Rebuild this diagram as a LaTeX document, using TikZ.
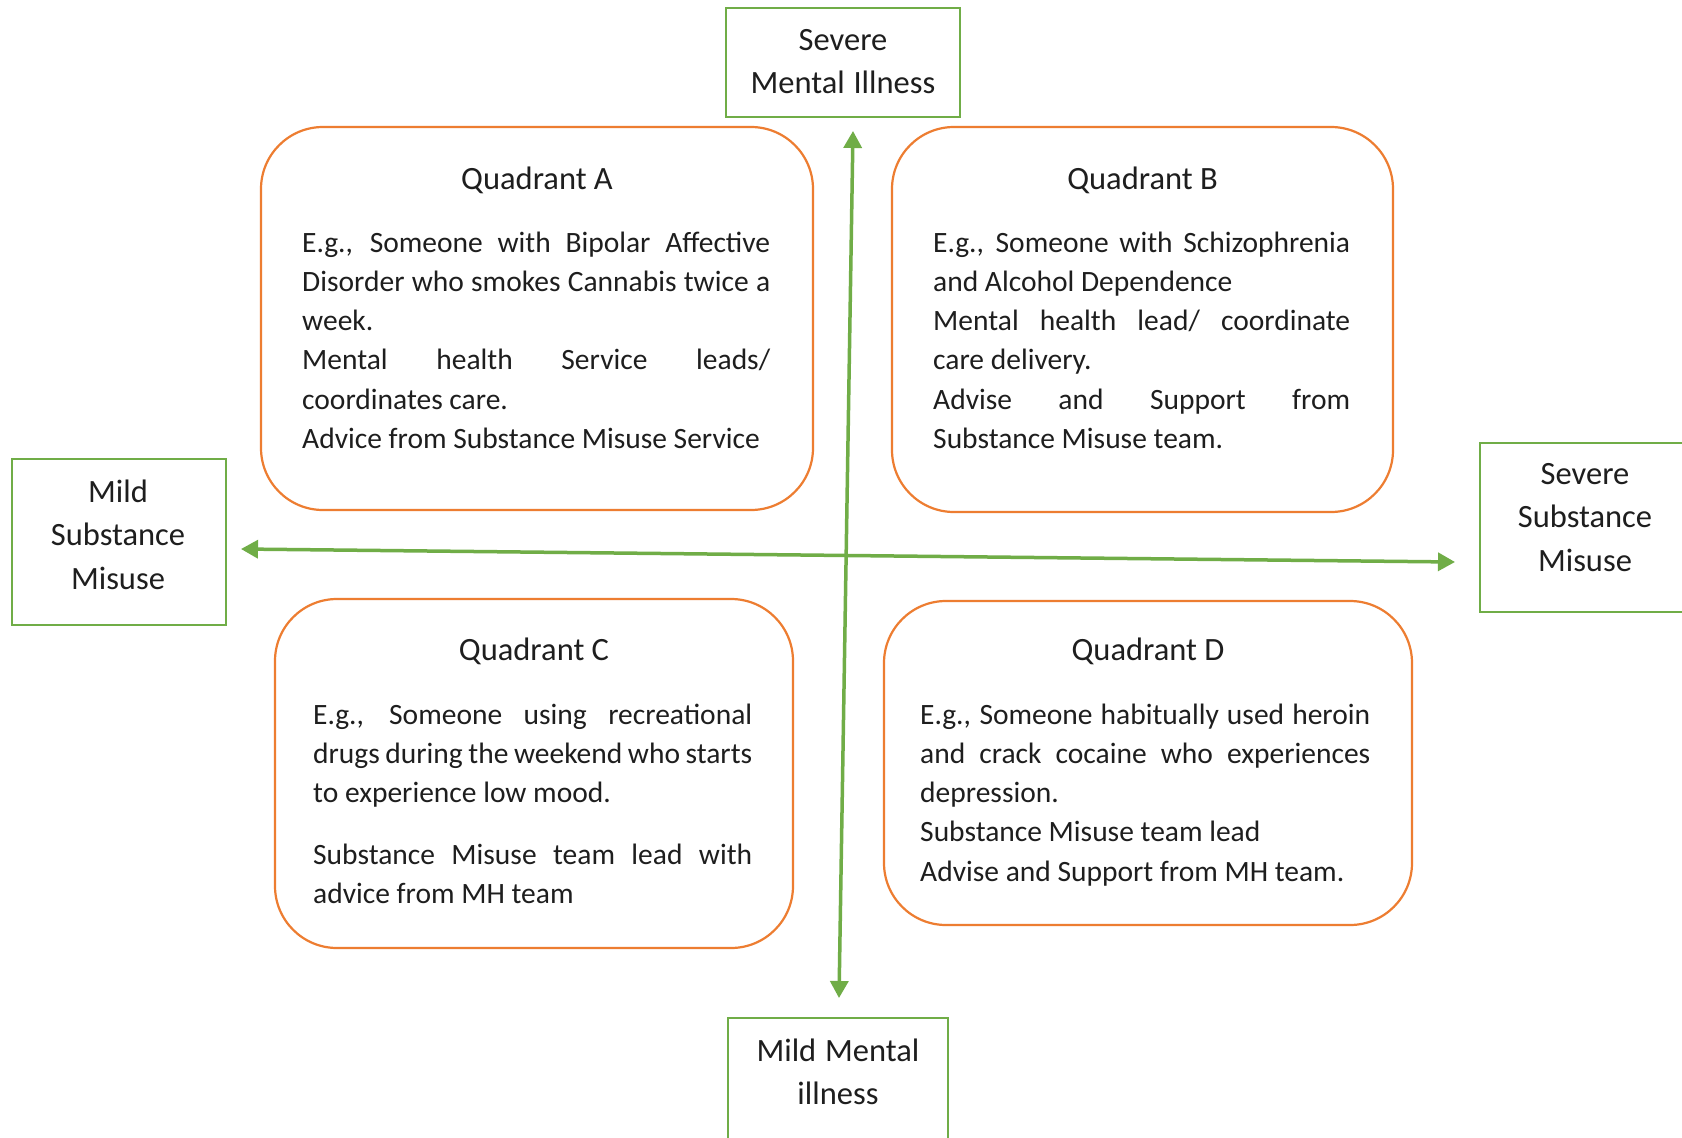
\documentclass[tikz,border=0pt]{standalone}
\usepackage{fontspec}
\setmainfont{Carlito}
\usetikzlibrary{arrows.meta}
\definecolor{orng}{HTML}{ED7D31}
\definecolor{grn}{HTML}{70AD47}
\definecolor{txt}{HTML}{1E1E1E}
\newcommand\nsp{\spaceskip=0pt\relax\xspaceskip=0pt\relax\hyphenpenalty=10000\relax}
\newcommand\jline[2]{\makebox[#1][s]{\spaceskip=0pt\relax\xspaceskip=0pt\relax#2}}
\begin{document}
\begin{tikzpicture}[x=1pt,y=-1pt,
  quad/.style={draw=orng, line width=2.2pt, rounded corners=62pt, inner sep=0pt},
  lbox/.style={draw=grn, line width=2pt, inner sep=0pt},
  body/.style={anchor=base west, inner sep=0pt, text width=#1, align=left,
    font=\fontsize{29.5}{39.3}\selectfont, text=txt},
  ttl/.style={anchor=base, inner sep=0pt, font=\fontsize{32.5}{40}\selectfont, text=txt},
  lab/.style={anchor=base, inner sep=0pt, text width=#1, align=center,
    font=\fontsize{32.5}{43.5}\selectfont, text=txt},
  arr/.style={draw=grn, line width=3.5pt,
    {Triangle[length=17pt,width=18pt]}-{Triangle[length=17pt,width=18pt]}}]
\useasboundingbox (0,0) rectangle (1682,1138);
\fill[white] (0,0) rectangle (1682,1138);
\begin{scope}
\clip (0,0) rectangle (1682,1138);
% label boxes
\node[lbox, minimum width=234pt, minimum height=109pt] (top) at (843,62.5) {};
\node[lbox, minimum width=214pt, minimum height=166pt] (left) at (119,542) {};
\node[lbox, minimum width=220pt, minimum height=169pt] (right) at (1590,527.5) {};
\node[lbox, minimum width=220pt, minimum height=132pt] (bottom) at (838,1084) {};
\node[lab=230pt] (toplab) at (843,50) {\nsp Severe\\Mental Illness};
\node[lab=210pt] (leftlab) at (118,502) {\nsp Mild\\Substance\\Misuse};
\node[lab=210pt] (rightlab) at (1585,484) {\nsp Severe\\Substance\\Misuse};
\node[lab=216pt] (bottomlab) at (838,1061) {\nsp Mild Mental\\illness};
% quadrant boxes
\node[quad, minimum width=552pt, minimum height=383pt] (qa) at (537,318.5) {};
\node[quad, minimum width=501pt, minimum height=385pt] (qb) at (1142.5,319.5) {};
\node[quad, minimum width=518pt, minimum height=349pt] (qc) at (534,773.5) {};
\node[quad, minimum width=528pt, minimum height=324pt] (qd) at (1148,763) {};
% titles
\node[ttl] (tta) at (537,189) {\nsp Quadrant A};
\node[ttl] (ttb) at (1142.5,189) {\nsp Quadrant B};
\node[ttl] (ttc) at (534,660) {\nsp Quadrant C};
\node[ttl] (ttd) at (1148,660) {\nsp Quadrant D};
% bodies
\node[body=468pt] (ba) at (302,252) {\nsp\jline{468pt}{E.g., Someone with Bipolar Affective}\\
\jline{468pt}{Disorder who smokes Cannabis twice a}\\
week.\\
\jline{468pt}{Mental health Service leads/}\\
coordinates care.\\
Advice from Substance Misuse Service};
\node[body=417pt] (bb) at (933,252) {\nsp\jline{417pt}{E.g., Someone with Schizophrenia}\\
and Alcohol Dependence\\
\jline{417pt}{Mental health lead/ coordinate}\\
care delivery.\\
\jline{417pt}{Advise and Support from}\\
Substance Misuse team.};
\node[body=439pt] (bc) at (313,724) {\nsp\jline{439pt}{E.g., Someone using recreational}\\
\jline{439pt}{drugs during the weekend who starts}\\
to experience low mood.\\[22.6pt]
\jline{439pt}{Substance Misuse team lead with}\\
advice from MH team};
\node[body=450pt] (bd) at (920,724) {\nsp\jline{450pt}{E.g., Someone habitually used heroin}\\
\jline{450pt}{and crack cocaine who experiences}\\
depression.\\
Substance Misuse team lead\\
Advise and Support from MH team.};
% axes
\coordinate (vt) at (853,131);
\coordinate (vb) at (839,998);
\coordinate (hl) at (241,549);
\coordinate (hr) at (1455,562);
\draw[arr] (vt) -- (vb);
\draw[arr] (hl) -- (hr);
\end{scope}
\end{tikzpicture}
\end{document}
